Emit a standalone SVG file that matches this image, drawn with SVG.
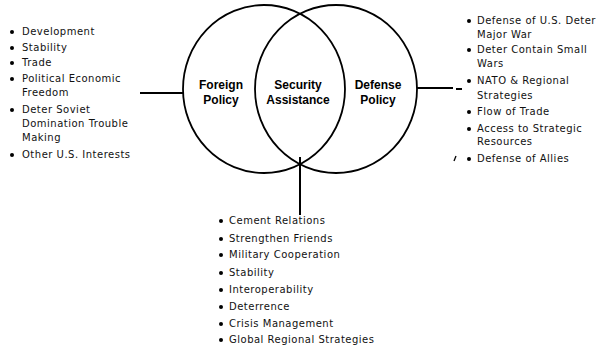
<svg xmlns="http://www.w3.org/2000/svg" width="606" height="345" viewBox="0 0 606 345">
<defs>
<circle id="b" r="2" fill="#000"/>
</defs>
<style>
.c{fill:none;stroke:#000;stroke-width:1.8}
.ln{stroke:#000;stroke-width:2;fill:none}
.t{font-family:"DejaVu Sans","Liberation Sans",sans-serif;font-size:10px;letter-spacing:0.5px;fill:#111}
.lb{font-family:"Liberation Sans",Arial,sans-serif;font-size:12px;font-weight:bold;fill:#000;text-anchor:middle}
</style>
<rect width="606" height="345" fill="#fff"/>
<g id="foreign-policy">
<ellipse class="c" cx="264" cy="89" rx="81" ry="84"/>
<text class="lb" x="221" y="89">Foreign</text>
<text class="lb" x="221" y="104">Policy</text>
</g>
<g id="defense-policy">
<ellipse class="c" cx="336" cy="89" rx="81" ry="84"/>
<text class="lb" x="378" y="89">Defense</text>
<text class="lb" x="378" y="104">Policy</text>
</g>
<g id="security-assistance">
<text class="lb" x="298" y="89">Security</text>
<text class="lb" x="298" y="104">Assistance</text>
</g>
<g id="connectors">
<line class="ln" x1="140" y1="93" x2="183" y2="93"/>
<line class="ln" x1="417" y1="88" x2="453" y2="88"/>
<line class="ln" x1="456" y1="89" x2="462" y2="89"/>
<line class="ln" x1="300" y1="157" x2="300" y2="215"/>
</g>
<g id="foreign-list" class="t">
<use href="#b" x="12" y="32"/><text x="22" y="35">Development</text>
<use href="#b" x="12" y="48"/><text x="22" y="51">Stability</text>
<use href="#b" x="12" y="63"/><text x="22" y="66">Trade</text>
<use href="#b" x="12" y="79"/><text x="22" y="82">Political Economic</text>
<text x="22" y="96">Freedom</text>
<use href="#b" x="12" y="110"/><text x="22" y="113">Deter Soviet</text>
<text x="22" y="127">Domination  Trouble</text>
<text x="22" y="141">Making</text>
<use href="#b" x="12" y="155"/><text x="22" y="158">Other U.S. Interests</text>
</g>
<g id="defense-list" class="t">
<use href="#b" x="469" y="21"/><text x="477" y="24">Defense of U.S.  Deter</text>
<text x="477" y="38">Major War</text>
<use href="#b" x="469" y="50"/><text x="477" y="53">Deter  Contain Small</text>
<text x="477" y="67">Wars</text>
<use href="#b" x="469" y="81"/><text x="477" y="84">NATO &amp; Regional</text>
<text x="477" y="99">Strategies</text>
<use href="#b" x="469" y="112"/><text x="477" y="115">Flow of Trade</text>
<use href="#b" x="469" y="129"/><text x="477" y="132">Access to Strategic</text>
<text x="477" y="145">Resources</text>
<use href="#b" x="469" y="159"/><text x="477" y="162">Defense of Allies</text>
<line x1="454" y1="161" x2="456" y2="156" stroke="#000" stroke-width="1.3"/>
</g>
<g id="security-list" class="t">
<use href="#b" x="221" y="221"/><text x="229" y="224">Cement Relations</text>
<use href="#b" x="221" y="239"/><text x="229" y="242">Strengthen Friends</text>
<use href="#b" x="221" y="255"/><text x="229" y="258">Military Cooperation</text>
<use href="#b" x="221" y="273"/><text x="229" y="276">Stability</text>
<use href="#b" x="221" y="290"/><text x="229" y="293">Interoperability</text>
<use href="#b" x="221" y="307"/><text x="229" y="310">Deterrence</text>
<use href="#b" x="221" y="324"/><text x="229" y="327">Crisis Management</text>
<use href="#b" x="221" y="340"/><text x="229" y="343">Global Regional Strategies</text>
</g>
</svg>
